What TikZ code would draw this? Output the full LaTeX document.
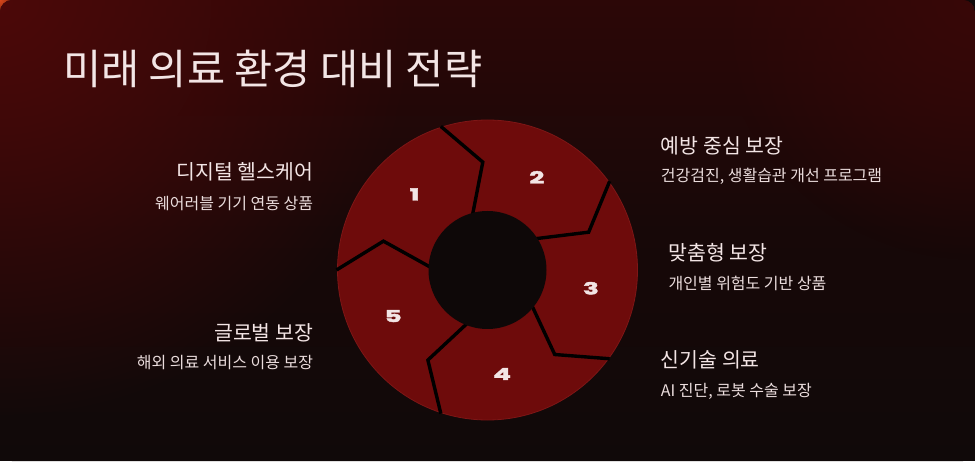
\documentclass[tikz,border=0pt]{standalone}
\usepackage{fontspec}
\setmainfont{Noto Sans CJK KR}
\newfontfamily\numfont[FakeStretch=1.6, BoldFeatures={FakeBold=2.5}]{Poppins}
\usetikzlibrary{calc,fadings}
\definecolor{bgtop}{HTML}{2C0707}
\definecolor{bgmid}{HTML}{170808}
\definecolor{bgbot}{HTML}{100909}
\definecolor{glowA}{HTML}{4C0909}
\definecolor{glowB}{HTML}{380707}
\definecolor{segred}{HTML}{6E0B0B}
\definecolor{segedge}{HTML}{7E1616}
\definecolor{hole}{HTML}{0E0808}
\definecolor{headtxt}{HTML}{F3E5E5}
\definecolor{subtxt}{HTML}{EBDDDD}
\definecolor{cornerglow}{HTML}{D9461A}
\tikzfading[name=glowfade, inner color=transparent!0, outer color=transparent!100]
\tikzset{
  heading/.style={inner sep=0pt, text=headtxt, font=\fontsize{20.5}{24}\selectfont},
  subline/.style={inner sep=0pt, text=subtxt, font=\fontsize{16}{19}\selectfont},
  digit/.style={inner sep=0pt, text=headtxt, font=\numfont\bfseries\fontsize{16.5}{17}\selectfont},
  divider/.style={draw=black, line width=3.4pt, line join=miter},
}
\begin{document}
\begin{tikzpicture}[x=1pt,y=1pt]
\useasboundingbox (0,0) rectangle (975,461);
% page behind the card
\fill[bgbot] (0,0) rectangle (975,461);
\begin{scope}
  \clip (0,461) rectangle (30,431);
  \fill[cornerglow, path fading=glowfade] (0,461) circle (30);
\end{scope}
% card
\begin{scope}
  \clip[rounded corners=12pt] (0,0) rectangle (975,461);
  \shade[top color=bgtop, bottom color=bgbot, middle color=bgmid] (0,0) rectangle (975,461);
  \fill[glowA, path fading=glowfade] (0,461) circle (420);
  \fill[glowB, path fading=glowfade] (975,461) circle (260);
\end{scope}
% title
\node[inner sep=0pt, anchor=west, text=headtxt, font=\fontsize{41.5}{48}\selectfont] (title) at (63,392.5) {미래 의료 환경 대비 전략};
% wheel
\coordinate (C) at (487.5,191);
\fill[segred, draw=segedge, line width=0.8pt] (C) circle (150);
\foreach \t in {180,108,36,-36,-108}{
  \draw[divider] ($(C)+(\t:52)$) -- ($(C)+(\t-15.5:108)$) -- ($(C)+(\t:151)$);
}
\fill[hole] (C) circle (59);
\foreach \k in {0,...,4}{
  \pgfmathtruncatemacro{\n}{\k+1}
  \node[digit] (d\n) at ($(C)+(134-72*\k:105)$) {\n};
}
% left texts
\node[heading, anchor=east] (h1) at (313.3,289.3) {디지털 헬스케어};
\node[subline, anchor=east] (s1) at (313.3,257) {웨어러블 기기 연동 상품};
\node[heading, anchor=east] (h5) at (313.3,128.3) {글로벌 보장};
\node[subline, anchor=east] (s5) at (313.3,98) {해외 의료 서비스 이용 보장};
% right texts
\node[heading, anchor=west] (h2) at (660.7,315) {예방 중심 보장};
\node[subline, anchor=west] (s2) at (660.7,284.3) {건강검진, 생활습관 개선 프로그램};
\node[heading, anchor=west] (h3) at (668.3,208) {맞춤형 보장};
\node[subline, anchor=west] (s3) at (668.3,178) {개인별 위험도 기반 상품};
\node[heading, anchor=west] (h4) at (660.7,101) {신기술 의료};
\node[subline, anchor=west] (s4) at (660.7,69.3) {AI 진단, 로봇 수술 보장};
\end{tikzpicture}
\end{document}
